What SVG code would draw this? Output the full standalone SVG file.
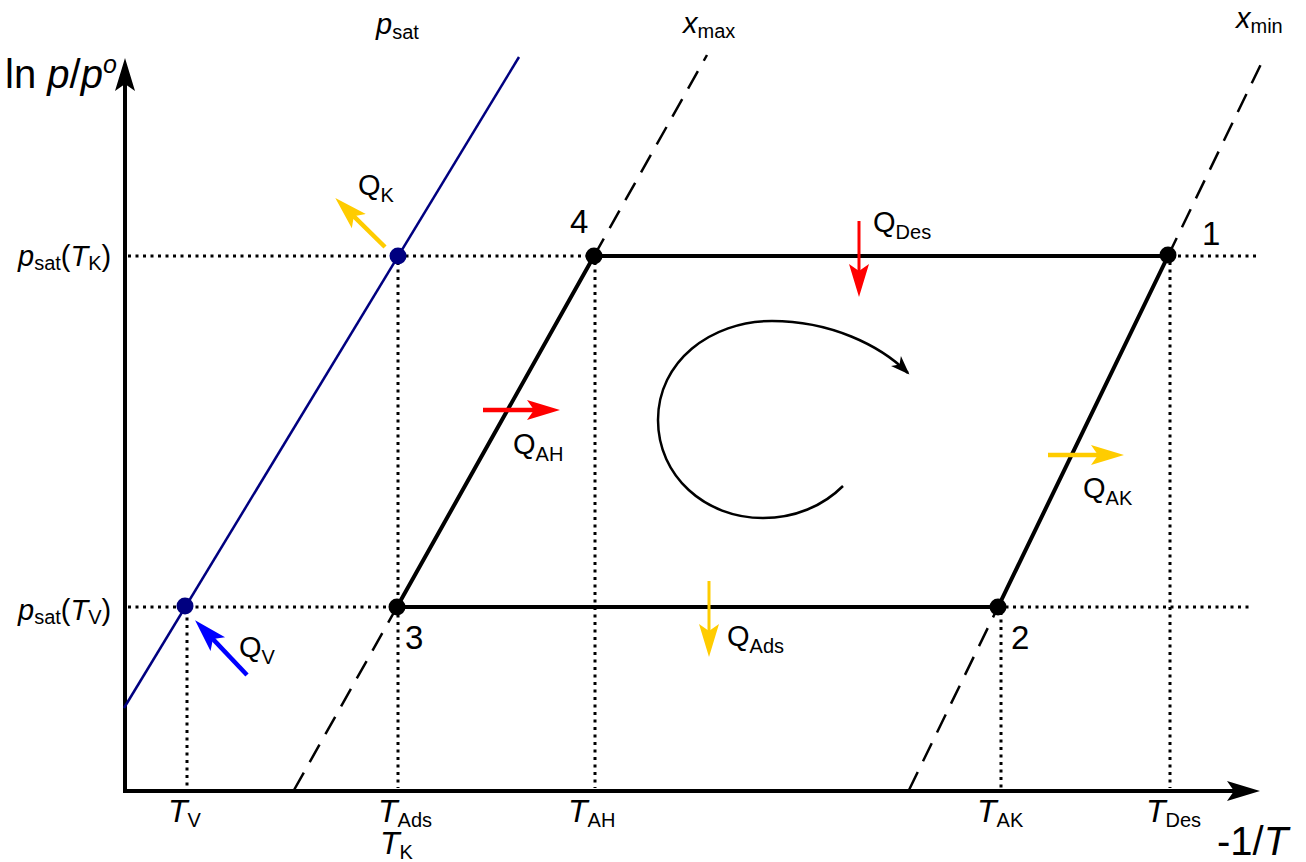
<svg xmlns="http://www.w3.org/2000/svg" width="1306" height="862" viewBox="0 0 1306 862">
<style>
text{font-family:"Liberation Sans",Arial,sans-serif;fill:#000}
.l{font-size:29px}
.s{font-size:20px}
.t{font-size:32px}
.ax{font-size:40px}
.n{font-size:33px}
.i{font-style:italic}
.dot{stroke:#000;stroke-width:3;stroke-dasharray:3 4.5;fill:none}
.dash{stroke:#000;stroke-width:2.5;stroke-dasharray:20 12;fill:none}
.cyc{stroke:#000;stroke-width:4;fill:none}
</style>
<defs>
<marker id="hk" viewBox="0 -11 34 22" refX="18" refY="0" markerWidth="34" markerHeight="22" markerUnits="userSpaceOnUse" orient="auto"><path d="M33,0 L0,-10 L7,0 L0,10 Z" fill="#000"/></marker>
<marker id="hr" viewBox="0 -11 34 22" refX="18" refY="0" markerWidth="34" markerHeight="22" markerUnits="userSpaceOnUse" orient="auto"><path d="M33,0 L0,-10 L7,0 L0,10 Z" fill="#FF0000"/></marker>
<marker id="hy" viewBox="0 -11 34 22" refX="18" refY="0" markerWidth="34" markerHeight="22" markerUnits="userSpaceOnUse" orient="auto"><path d="M33,0 L0,-10 L7,0 L0,10 Z" fill="#FFCC00"/></marker>
<marker id="hb" viewBox="0 -11 34 22" refX="18" refY="0" markerWidth="34" markerHeight="22" markerUnits="userSpaceOnUse" orient="auto"><path d="M33,0 L0,-10 L7,0 L0,10 Z" fill="#0000FF"/></marker>
<marker id="hc" viewBox="0 -8 20 16" refX="17" refY="0" markerWidth="20" markerHeight="16" markerUnits="userSpaceOnUse" orient="auto"><path d="M19,0 L0,-7 L5,0 L0,7 Z" fill="#000"/></marker>
</defs>

<g id="guides">
<line class="dot" x1="128" y1="256" x2="1256" y2="256"/>
<line class="dot" x1="128" y1="607" x2="1252" y2="607"/>
<line class="dot" x1="187" y1="610" x2="187" y2="788"/>
<line class="dot" x1="398" y1="262" x2="398" y2="788"/>
<line class="dot" x1="595" y1="262" x2="595" y2="788"/>
<line class="dot" x1="1001" y1="612" x2="1001" y2="788"/>
<line class="dot" x1="1170" y1="262" x2="1170" y2="788"/>
</g>

<g id="axes">
<line x1="125" y1="793" x2="125" y2="73" stroke="#000" stroke-width="4" marker-end="url(#hk)"/>
<line x1="123" y1="791" x2="1245" y2="791" stroke="#000" stroke-width="4" marker-end="url(#hk)"/>
<text class="ax" x="5" y="88" font-size="38">ln <tspan class="i">p</tspan>/<tspan class="i">p</tspan><tspan class="i" font-size="25" dy="-15">o</tspan></text>
<text class="ax" x="1217" y="855">-1/<tspan class="i">T</tspan></text>
</g>

<g id="psat-line">
<line x1="124" y1="708" x2="519" y2="57" stroke="#000080" stroke-width="2.5"/>
<text class="l" x="376" y="34"><tspan class="i">p</tspan><tspan class="s" dy="5">sat</tspan></text>
</g>

<g id="xmax-line">
<line class="dash" x1="294" y1="790" x2="397" y2="607"/>
<line class="dash" x1="594" y1="256" x2="707" y2="55"/>
<text class="l" x="683" y="33"><tspan class="i">x</tspan><tspan class="s" dy="5">max</tspan></text>
</g>

<g id="xmin-line">
<line class="dash" x1="909" y1="790" x2="998" y2="607"/>
<line class="dash" x1="1168" y1="256" x2="1262" y2="62"/>
<text class="l" x="1236" y="28"><tspan class="i">x</tspan><tspan class="s" dy="5">min</tspan></text>
</g>

<g id="cycle">
<path class="cyc" d="M397,607 L594,256 L1168,256 L998,607 Z"/>
</g>

<g id="connectors">
<path d="M843,486 C823,506 795,518 763,518 C705,518 658,476 658,420 C658,362 710,321 772,321 C830,321 880,345 908,373" fill="none" stroke="#000" stroke-width="2.5" marker-end="url(#hc)"/>
<line x1="385" y1="247" x2="346" y2="208.6" stroke="#FFCC00" stroke-width="4.5" marker-end="url(#hy)"/>
<line x1="247" y1="675" x2="205.4" y2="631.1" stroke="#0000FF" stroke-width="4.5" marker-end="url(#hb)"/>
<line x1="859" y1="221" x2="859" y2="282" stroke="#FF0000" stroke-width="3" marker-end="url(#hr)"/>
<line x1="483" y1="410" x2="545" y2="410" stroke="#FF0000" stroke-width="4.5" marker-end="url(#hr)"/>
<line x1="1048" y1="455" x2="1109" y2="455" stroke="#FFCC00" stroke-width="4.5" marker-end="url(#hy)"/>
<line x1="709" y1="581" x2="709" y2="642" stroke="#FFCC00" stroke-width="3" marker-end="url(#hy)"/>
</g>

<g id="node-1"><circle cx="1168" cy="255" r="8.5" fill="#000"/><text class="n" x="1202" y="245">1</text></g>
<g id="node-2"><circle cx="998" cy="607" r="8.5" fill="#000"/><text class="n" x="1011" y="649">2</text></g>
<g id="node-3"><circle cx="397" cy="607" r="8.5" fill="#000"/><text class="n" x="405" y="649">3</text></g>
<g id="node-4"><circle cx="594" cy="256" r="8.5" fill="#000"/><text class="n" x="570" y="233">4</text></g>
<g id="node-K"><circle cx="398" cy="256" r="8.5" fill="#000080"/></g>
<g id="node-V"><circle cx="185" cy="606" r="8.5" fill="#000080"/></g>

<g id="labels">
<text class="l" x="18" y="266" font-size="30"><tspan class="i">p</tspan><tspan class="s" dy="4" font-size="21">sat</tspan><tspan dy="-4">(</tspan><tspan class="i">T</tspan><tspan class="s" dy="4" font-size="21">K</tspan><tspan dy="-4">)</tspan></text>
<text class="l" x="18" y="620" font-size="30"><tspan class="i">p</tspan><tspan class="s" dy="4" font-size="21">sat</tspan><tspan dy="-4">(</tspan><tspan class="i">T</tspan><tspan class="s" dy="4" font-size="21">V</tspan><tspan dy="-4">)</tspan></text>
<text class="l" x="358" y="195">Q<tspan class="s" dy="7">K</tspan></text>
<text class="l" x="873" y="232">Q<tspan class="s" dy="7">Des</tspan></text>
<text class="l" x="513" y="454">Q<tspan class="s" dy="7">AH</tspan></text>
<text class="l" x="1083" y="498">Q<tspan class="s" dy="7">AK</tspan></text>
<text class="l" x="727" y="646">Q<tspan class="s" dy="7">Ads</tspan></text>
<text class="l" x="239" y="657">Q<tspan class="s" dy="7">V</tspan></text>
<text class="t" x="168" y="822"><tspan class="i">T</tspan><tspan class="s" dy="5">V</tspan></text>
<text class="t" x="378" y="822"><tspan class="i">T</tspan><tspan class="s" dy="5">Ads</tspan></text>
<text class="t" x="380" y="854"><tspan class="i">T</tspan><tspan class="s" dy="5">K</tspan></text>
<text class="t" x="568" y="822"><tspan class="i">T</tspan><tspan class="s" dy="5">AH</tspan></text>
<text class="t" x="977" y="822"><tspan class="i">T</tspan><tspan class="s" dy="5">AK</tspan></text>
<text class="t" x="1146" y="822"><tspan class="i">T</tspan><tspan class="s" dy="5">Des</tspan></text>
</g>
</svg>
